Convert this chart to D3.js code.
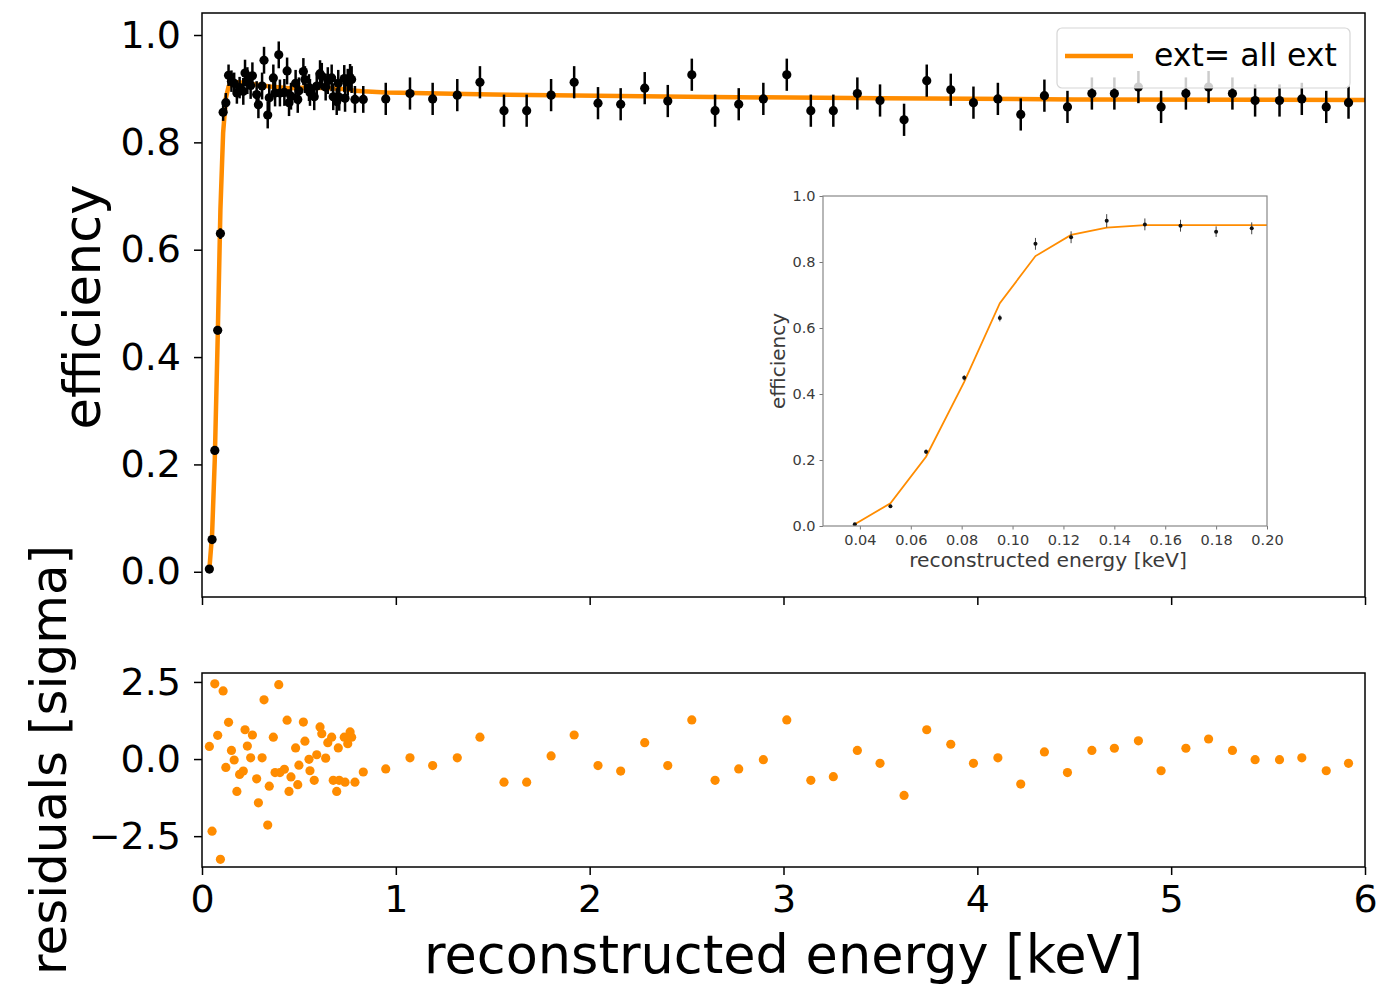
<!DOCTYPE html>
<html><head><meta charset="utf-8">
<script src="https://cdn.jsdelivr.net/npm/d3@7"></script>
<style>body{margin:0;background:#fff}svg{display:block}text{font-family:"DejaVu Sans",sans-serif}</style>
</head><body><svg id="c" width="1389" height="986"></svg>
<script>
// ---- data ----
const energy = [0.038,0.052,0.066,0.081,0.095,0.109,0.123,0.137,0.152,0.166,0.180,0.194,0.213,0.222,0.234,0.251,0.260,0.282,0.291,0.310,0.320,0.339,0.347,0.368,0.377,0.396,0.402,0.425,0.439,0.449,0.459,0.483,0.494,0.500,0.523,0.531,0.552,0.557,0.579,0.592,0.609,0.618,0.638,0.649,0.669,0.677,0.695,0.703,0.708,0.734,0.738,0.752,0.764,0.772,0.789,0.832,
0.948,1.073,1.190,1.317,1.434,1.558,1.675,1.801,1.920,2.043,2.160,2.284,2.403,2.527,2.647,2.769,2.896,3.017,3.141,3.257,3.381,3.498,3.622,3.739,3.863,3.980,4.106,4.224,4.346,4.465,4.591,4.707,4.831,4.948,5.076,5.193,5.316,5.433,5.559,5.674,5.800,5.915];
const efficiency = [0.005,0.060,0.226,0.450,0.630,0.856,0.874,0.925,0.914,0.910,0.892,0.902,0.895,0.929,0.915,0.906,0.924,0.889,0.870,0.905,0.953,0.851,0.883,0.920,0.892,0.963,0.892,0.893,0.933,0.874,0.886,0.910,0.880,0.896,0.932,0.917,0.902,0.893,0.885,0.905,0.928,0.923,0.903,0.915,0.920,0.885,0.876,0.910,0.884,0.919,0.882,0.912,0.921,0.917,0.880,0.880,
0.881,0.891,0.881,0.888,0.912,0.859,0.859,0.888,0.912,0.873,0.871,0.901,0.877,0.926,0.859,0.871,0.881,0.926,0.859,0.859,0.891,0.878,0.842,0.915,0.898,0.874,0.881,0.852,0.887,0.866,0.891,0.891,0.903,0.866,0.891,0.903,0.891,0.878,0.878,0.881,0.866,0.874];
const effError = [0.003,0.004,0.006,0.008,0.010,0.016,0.018,0.020,0.020,0.020,0.020,0.020,0.025,0.025,0.025,0.025,0.025,0.025,0.025,0.025,0.025,0.025,0.025,0.025,0.025,0.025,0.025,0.025,0.025,0.025,0.025,0.025,0.025,0.025,0.025,0.025,0.025,0.025,0.025,0.025,0.025,0.025,0.025,0.025,0.025,0.025,0.025,0.025,0.025,0.025,0.025,0.025,0.025,0.025,0.025,0.025,
0.030,0.030,0.030,0.030,0.030,0.030,0.030,0.030,0.030,0.030,0.030,0.030,0.030,0.030,0.030,0.030,0.030,0.030,0.030,0.030,0.030,0.030,0.030,0.030,0.030,0.030,0.030,0.030,0.030,0.030,0.030,0.030,0.030,0.030,0.030,0.030,0.030,0.030,0.030,0.030,0.030,0.030];
const residuals = [0.41,-2.34,2.44,0.77,-3.25,2.21,-0.27,1.19,0.28,-0.03,-1.05,-0.50,-0.39,0.95,0.42,0.04,0.78,-0.64,-1.42,0.04,1.92,-2.14,-0.88,0.71,-0.44,2.41,-0.44,-0.33,1.26,-1.05,-0.58,0.36,-0.83,-0.20,1.20,0.58,-0.01,-0.38,-0.69,0.14,1.04,0.82,0.03,0.53,0.71,-0.69,-1.05,0.36,-0.69,0.71,-0.75,0.50,0.88,0.71,-0.75,-0.42,
-0.32,0.04,-0.21,0.04,0.71,-0.75,-0.75,0.10,0.78,-0.21,-0.39,0.53,-0.21,1.27,-0.69,-0.32,-0.02,1.27,-0.69,-0.57,0.28,-0.14,-1.18,0.95,0.48,-0.14,0.04,-0.81,0.23,-0.44,0.28,0.35,0.59,-0.38,0.35,0.65,0.28,-0.02,-0.02,0.04,-0.38,-0.14];
const fitEnergy = [0.038,0.052,0.066,0.081,0.095,0.109,0.123,0.137,0.152,0.166,0.180,0.194,0.25,0.35,0.45,0.55,0.65,0.75,0.79,0.83,0.95,1.5,2.5,3.5,4.5,6.0];
const fitEff    = [0.005,0.069,0.210,0.437,0.675,0.818,0.882,0.904,0.912,0.912,0.912,0.912,0.909,0.904,0.901,0.902,0.901,0.899,0.896,0.895,0.893,0.889,0.885,0.882,0.880,0.879];
// inset (zoom on threshold)
const insetEnergy = [0.038,0.052,0.066,0.081,0.095,0.109,0.123,0.137,0.152,0.166,0.180,0.194];
const insetEff    = [0.005,0.060,0.225,0.449,0.630,0.855,0.875,0.925,0.914,0.910,0.892,0.902];
const insetErr    = [0.004,0.005,0.007,0.008,0.010,0.018,0.018,0.020,0.018,0.018,0.016,0.018];
const insetFitE   = [0.038,0.052,0.066,0.081,0.095,0.109,0.123,0.137,0.152,0.166,0.180,0.194,0.21];
const insetFitEff = [0.005,0.069,0.210,0.437,0.675,0.818,0.882,0.904,0.912,0.912,0.912,0.912,0.912];
const mainYTicks = [0.0,0.2,0.4,0.6,0.8,1.0];
const resYTicks = [-2.5,0.0,2.5];
const xTicks = [0,1,2,3,4,5,6];
const insetXTicks = [0.04,0.06,0.08,0.10,0.12,0.14,0.16,0.18,0.20];
const insetYTicks = [0.0,0.2,0.4,0.6,0.8,1.0];
const legendLabel = "ext= all ext";
const ORANGE = "#ff8c00";

const svg = d3.select("#c");
const L=202,R=1365, MT=13, MB=597, RT=673, RB=867;
const x = d3.scaleLinear([0,6],[L,R]);
const y = d3.scaleLinear([-0.047,1.041],[MB,MT]);
const yr = d3.scaleLinear([-3.5,2.79],[RB,RT]);
const pts = energy.map((e,i)=>({e, v:efficiency[i], s:effError[i], r:residuals[i]}));

const defs = svg.append("defs");
defs.append("clipPath").attr("id","cm").append("rect").attr("x",L).attr("y",MT).attr("width",R-L).attr("height",MB-MT);
defs.append("clipPath").attr("id","cr").append("rect").attr("x",L).attr("y",RT).attr("width",R-L).attr("height",RB-RT);
defs.append("clipPath").attr("id","ci").append("rect").attr("x",823).attr("y",196).attr("width",444).attr("height",330);

function styleAxis(g, fs){
  g.select(".domain").remove();
  g.selectAll(".tick line").attr("stroke","#000").attr("stroke-width",1.5);
  g.selectAll(".tick text").attr("fill","#000").attr("font-size",fs).attr("font-family","DejaVu Sans");
}
// main panel
const gm = svg.append("g").attr("clip-path","url(#cm)");
gm.append("path").datum(fitEnergy.map((e,i)=>[e,fitEff[i]]))
  .attr("d", d3.line().x(d=>x(d[0])).y(d=>y(d[1])))
  .attr("fill","none").attr("stroke",ORANGE).attr("stroke-width",4.5).attr("stroke-linejoin","round");
gm.selectAll("line.err").data(pts).join("line").attr("class","err")
  .attr("x1",d=>x(d.e)).attr("x2",d=>x(d.e)).attr("y1",d=>y(d.v-d.s)).attr("y2",d=>y(d.v+d.s))
  .attr("stroke","#000").attr("stroke-width",2.5);
gm.selectAll("circle").data(pts).join("circle")
  .attr("cx",d=>x(d.e)).attr("cy",d=>y(d.v)).attr("r",4.6).attr("fill","#000");

svg.append("g").attr("transform",`translate(${L},0)`)
  .call(d3.axisLeft(y).tickValues(mainYTicks).tickFormat(d3.format(".1f")).tickSize(8).tickPadding(13))
  .call(g=>styleAxis(g,38));
svg.append("g").attr("transform",`translate(0,${MB})`)
  .call(d3.axisBottom(x).tickValues(xTicks).tickFormat("").tickSize(8))
  .call(g=>styleAxis(g,38));
svg.append("rect").attr("x",L).attr("y",MT).attr("width",R-L).attr("height",MB-MT)
  .attr("fill","none").attr("stroke","#000").attr("stroke-width",1.5);

// legend
const lg = svg.append("g");
lg.append("rect").attr("x",1057).attr("y",28).attr("width",293).attr("height",60).attr("rx",5)
  .attr("fill","#fff").attr("fill-opacity",0.8).attr("stroke","#d6d6d6").attr("stroke-width",1.2);
lg.append("line").attr("x1",1065).attr("x2",1133).attr("y1",56).attr("y2",56).attr("stroke",ORANGE).attr("stroke-width",4.5);
lg.append("text").attr("x",1154).attr("y",66).attr("font-size",31.5).attr("fill","#000").text(legendLabel);

// inset
const xi = d3.scaleLinear([0.0255,0.2],[823,1267]);
const yi = d3.scaleLinear([0,1],[526,196]);
const gi = svg.append("g");
gi.append("rect").attr("x",823).attr("y",196).attr("width",444).attr("height",330).attr("fill","#fff");
const gic = gi.append("g").attr("clip-path","url(#ci)");
gic.append("path").datum(insetFitE.map((e,i)=>[e,insetFitEff[i]]))
  .attr("d", d3.line().x(d=>xi(d[0])).y(d=>yi(d[1])))
  .attr("fill","none").attr("stroke",ORANGE).attr("stroke-width",1.8);
const ipts = insetEnergy.map((e,i)=>({e,v:insetEff[i],s:insetErr[i]}));
gic.selectAll("line.ie").data(ipts).join("line").attr("class","ie")
  .attr("x1",d=>xi(d.e)).attr("x2",d=>xi(d.e)).attr("y1",d=>yi(d.v-d.s)).attr("y2",d=>yi(d.v+d.s))
  .attr("stroke","#444").attr("stroke-width",1);
gic.selectAll("circle").data(ipts).join("circle")
  .attr("cx",d=>xi(d.e)).attr("cy",d=>yi(d.v)).attr("r",2).attr("fill","#111");
function styleInset(g){
  g.select(".domain").remove();
  g.selectAll(".tick line").attr("stroke","#777").attr("stroke-width",1);
  g.selectAll(".tick text").attr("fill","#3a3a3a").attr("font-size",14.5).attr("font-family","DejaVu Sans");
}
gi.append("g").attr("transform","translate(823,0)")
  .call(d3.axisLeft(yi).tickValues(insetYTicks).tickFormat(d3.format(".1f")).tickSize(3.5).tickPadding(4))
  .call(styleInset);
gi.append("g").attr("transform","translate(0,526)")
  .call(d3.axisBottom(xi).tickValues(insetXTicks).tickFormat(d3.format(".2f")).tickSize(3.5).tickPadding(5))
  .call(styleInset);
gi.append("rect").attr("x",823).attr("y",196).attr("width",444).attr("height",330)
  .attr("fill","none").attr("stroke","#888").attr("stroke-width",1.2);
gi.append("text").attr("x",(823+1267)/2+3).attr("y",567).attr("text-anchor","middle").attr("font-size",20.3).attr("fill","#3a3a3a").text("reconstructed energy [keV]");
gi.append("text").attr("transform",`translate(785,${(196+526)/2}) rotate(-90)`).attr("text-anchor","middle").attr("font-size",20).attr("fill","#3a3a3a").text("efficiency");

// residual panel
const gr = svg.append("g").attr("clip-path","url(#cr)");
gr.selectAll("circle").data(pts).join("circle")
  .attr("cx",d=>x(d.e)).attr("cy",d=>yr(d.r)).attr("r",4.6).attr("fill",ORANGE);
svg.append("g").attr("transform",`translate(${L},0)`)
  .call(d3.axisLeft(yr).tickValues(resYTicks).tickFormat(d3.format(".1f")).tickSize(8).tickPadding(13))
  .call(g=>styleAxis(g,38));
svg.append("g").attr("transform",`translate(0,${RB})`)
  .call(d3.axisBottom(x).tickValues(xTicks).tickFormat(d3.format("d")).tickSize(8).tickPadding(10))
  .call(g=>styleAxis(g,38));
svg.append("rect").attr("x",L).attr("y",RT).attr("width",R-L).attr("height",RB-RT)
  .attr("fill","none").attr("stroke","#000").attr("stroke-width",1.5);

// axis labels
svg.append("text").attr("x",(L+R)/2).attr("y",973).attr("text-anchor","middle").attr("font-size",52.5).attr("fill","#000").text("reconstructed energy [keV]");
svg.append("text").attr("transform",`translate(100,${(MT+MB)/2+2}) rotate(-90)`).attr("text-anchor","middle").attr("font-size",51).attr("fill","#000").text("efficiency");
svg.append("text").attr("transform",`translate(66,760) rotate(-90)`).attr("text-anchor","middle").attr("font-size",50).attr("fill","#000").text("residuals [sigma]");
</script></body></html>
